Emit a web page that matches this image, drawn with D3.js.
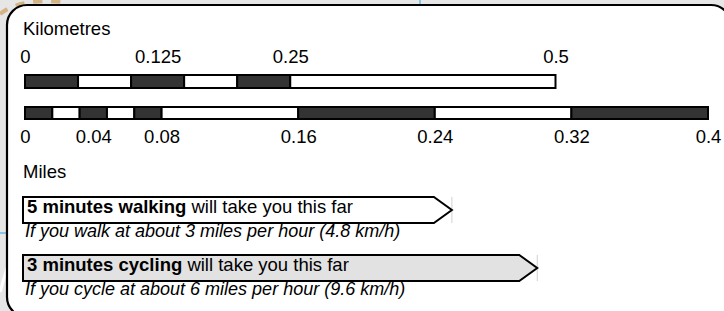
<!DOCTYPE html>
<html>
<head>
<meta charset="utf-8">
<script src="https://cdn.jsdelivr.net/npm/d3@7"></script>
<style>
  html, body { margin: 0; padding: 0; background: #e6e6e6; }
  svg { display: block; font-family: "Liberation Sans", Arial, sans-serif; }
</style>
</head>
<body>
<svg id="chart" width="724" height="311"></svg>
<script>
// ---- data ----
const kmTicks = [0, 0.125, 0.25, 0.5];
const kmBreaks = [0, 0.05, 0.1, 0.15, 0.2, 0.25, 0.5];
const mileTicks = [0, 0.04, 0.08, 0.16, 0.24, 0.32, 0.4];
const mileBreaks = [0, 0.016, 0.032, 0.048, 0.064, 0.08, 0.16, 0.24, 0.32, 0.4];
const modes = ["walking", "cycling"];
const minutes = [5, 3];
const speedMph = [3, 6];
const speedKmh = [4.8, 9.6];
const arrowMiles = [0.25, 0.3];
const titles = ["Kilometres", "Miles"];

// ---- layout ----
const W = 724, H = 311;
const FS = 18.5;
const x0 = 25, mileMaxPx = 708;
const KM_PER_MILE = 1.609344;
const xMile = d3.scaleLinear().domain([0, 0.4]).range([x0, mileMaxPx]);
const xKm = d3.scaleLinear().domain([0, 0.4 * KM_PER_MILE]).range([x0, mileMaxPx]);

const svg = d3.select("#chart");

// background map hints
svg.append("rect").attr("width", W).attr("height", H).attr("fill", "#e6e6e6");
svg.append("path").attr("d", "M0,14 Q20,-2 62,2")
  .attr("fill", "none").attr("stroke", "#d4b483").attr("stroke-width", 4)
  .attr("stroke-dasharray", "9,9");
svg.append("line").attr("x1", 420).attr("x2", 420).attr("y1", 0).attr("y2", 6)
  .attr("stroke", "#2aa5e0").attr("stroke-width", 1);
svg.append("line").attr("x1", 0).attr("x2", 7).attr("y1", 233).attr("y2", 233)
  .attr("stroke", "#2aa5e0").attr("stroke-width", 1);
svg.append("line").attr("x1", 0).attr("x2", 7).attr("y1", 292).attr("y2", 268)
  .attr("stroke", "#ffffff").attr("stroke-width", 3);

// panel
svg.append("rect").attr("x", 7).attr("y", 5).attr("width", 724).attr("height", 312)
  .attr("rx", 20).attr("ry", 20)
  .attr("fill", "#ffffff").attr("stroke", "#000").attr("stroke-width", 2.2);

const txt = (x, y, s, opts = {}) => svg.append("text").attr("x", x).attr("y", y)
  .attr("font-size", opts.size || FS).attr("fill", "#000")
  .attr("font-style", opts.italic ? "italic" : "normal").text(s);

txt(23, 35, titles[0]);
txt(23, 178, titles[1]);

function scaleBar(scale, breaks, y, h) {
  const segs = d3.pairs(breaks);
  svg.append("g").selectAll("rect").data(segs).join("rect")
    .attr("x", d => scale(d[0])).attr("y", y)
    .attr("width", d => scale(d[1]) - scale(d[0])).attr("height", h)
    .attr("fill", (d, i) => i % 2 === 0 ? "#333333" : "#ffffff")
    .attr("stroke", "#000").attr("stroke-width", 2);
}

// kilometres bar
scaleBar(xKm, kmBreaks, 75, 13);
const kmAxis = svg.append("g").attr("transform", "translate(0,75)")
  .call(d3.axisTop(xKm).tickValues(kmTicks).tickFormat(d => String(d)).tickSize(0).tickPadding(12));
// miles bar
scaleBar(xMile, mileBreaks, 107, 12);
const miAxis = svg.append("g").attr("transform", "translate(0,119)")
  .call(d3.axisBottom(xMile).tickValues(mileTicks).tickFormat(d => String(d)).tickSize(0).tickPadding(10.5));

[kmAxis, miAxis].forEach(g => {
  g.select(".domain").remove();
  g.attr("font-family", null).attr("font-size", null).attr("color", "#000");
  g.selectAll("text").attr("font-size", FS).attr("fill", "#000");
});

// arrows
const arrowTop = [197, 255];
const arrowH = 26;
const arrowFill = ["#ffffff", "#e2e2e2"];
modes.forEach((m, i) => {
  const tip = xMile(arrowMiles[i]);
  const yT = arrowTop[i];
  const left = 23;
  const p = d3.path();
  p.moveTo(left, yT);
  p.lineTo(tip - 18, yT);
  p.lineTo(tip, yT + arrowH / 2);
  p.lineTo(tip - 18, yT + arrowH);
  p.lineTo(left, yT + arrowH);
  p.closePath();
  svg.append("line").attr("x1", tip).attr("x2", tip).attr("y1", yT).attr("y2", yT + arrowH)
    .attr("stroke", "#d0d0d0").attr("stroke-width", 1);
  svg.append("path").attr("d", p.toString())
    .attr("fill", arrowFill[i]).attr("stroke", "#000").attr("stroke-width", 2);
  const t = svg.append("text").attr("x", 27).attr("y", yT + 16).attr("font-size", FS).attr("fill", "#000");
  t.append("tspan").attr("font-weight", "bold").text(`${minutes[i]} minutes ${m}`);
  t.append("tspan").text(" will take you this far");
  const verb = m === "walking" ? "walk" : "cycle";
  txt(25, yT + arrowH + 14, `If you ${verb} at about ${speedMph[i]} miles per hour (${speedKmh[i]} km/h)`, { italic: true, size: 18 });
});
</script>
</body>
</html>
